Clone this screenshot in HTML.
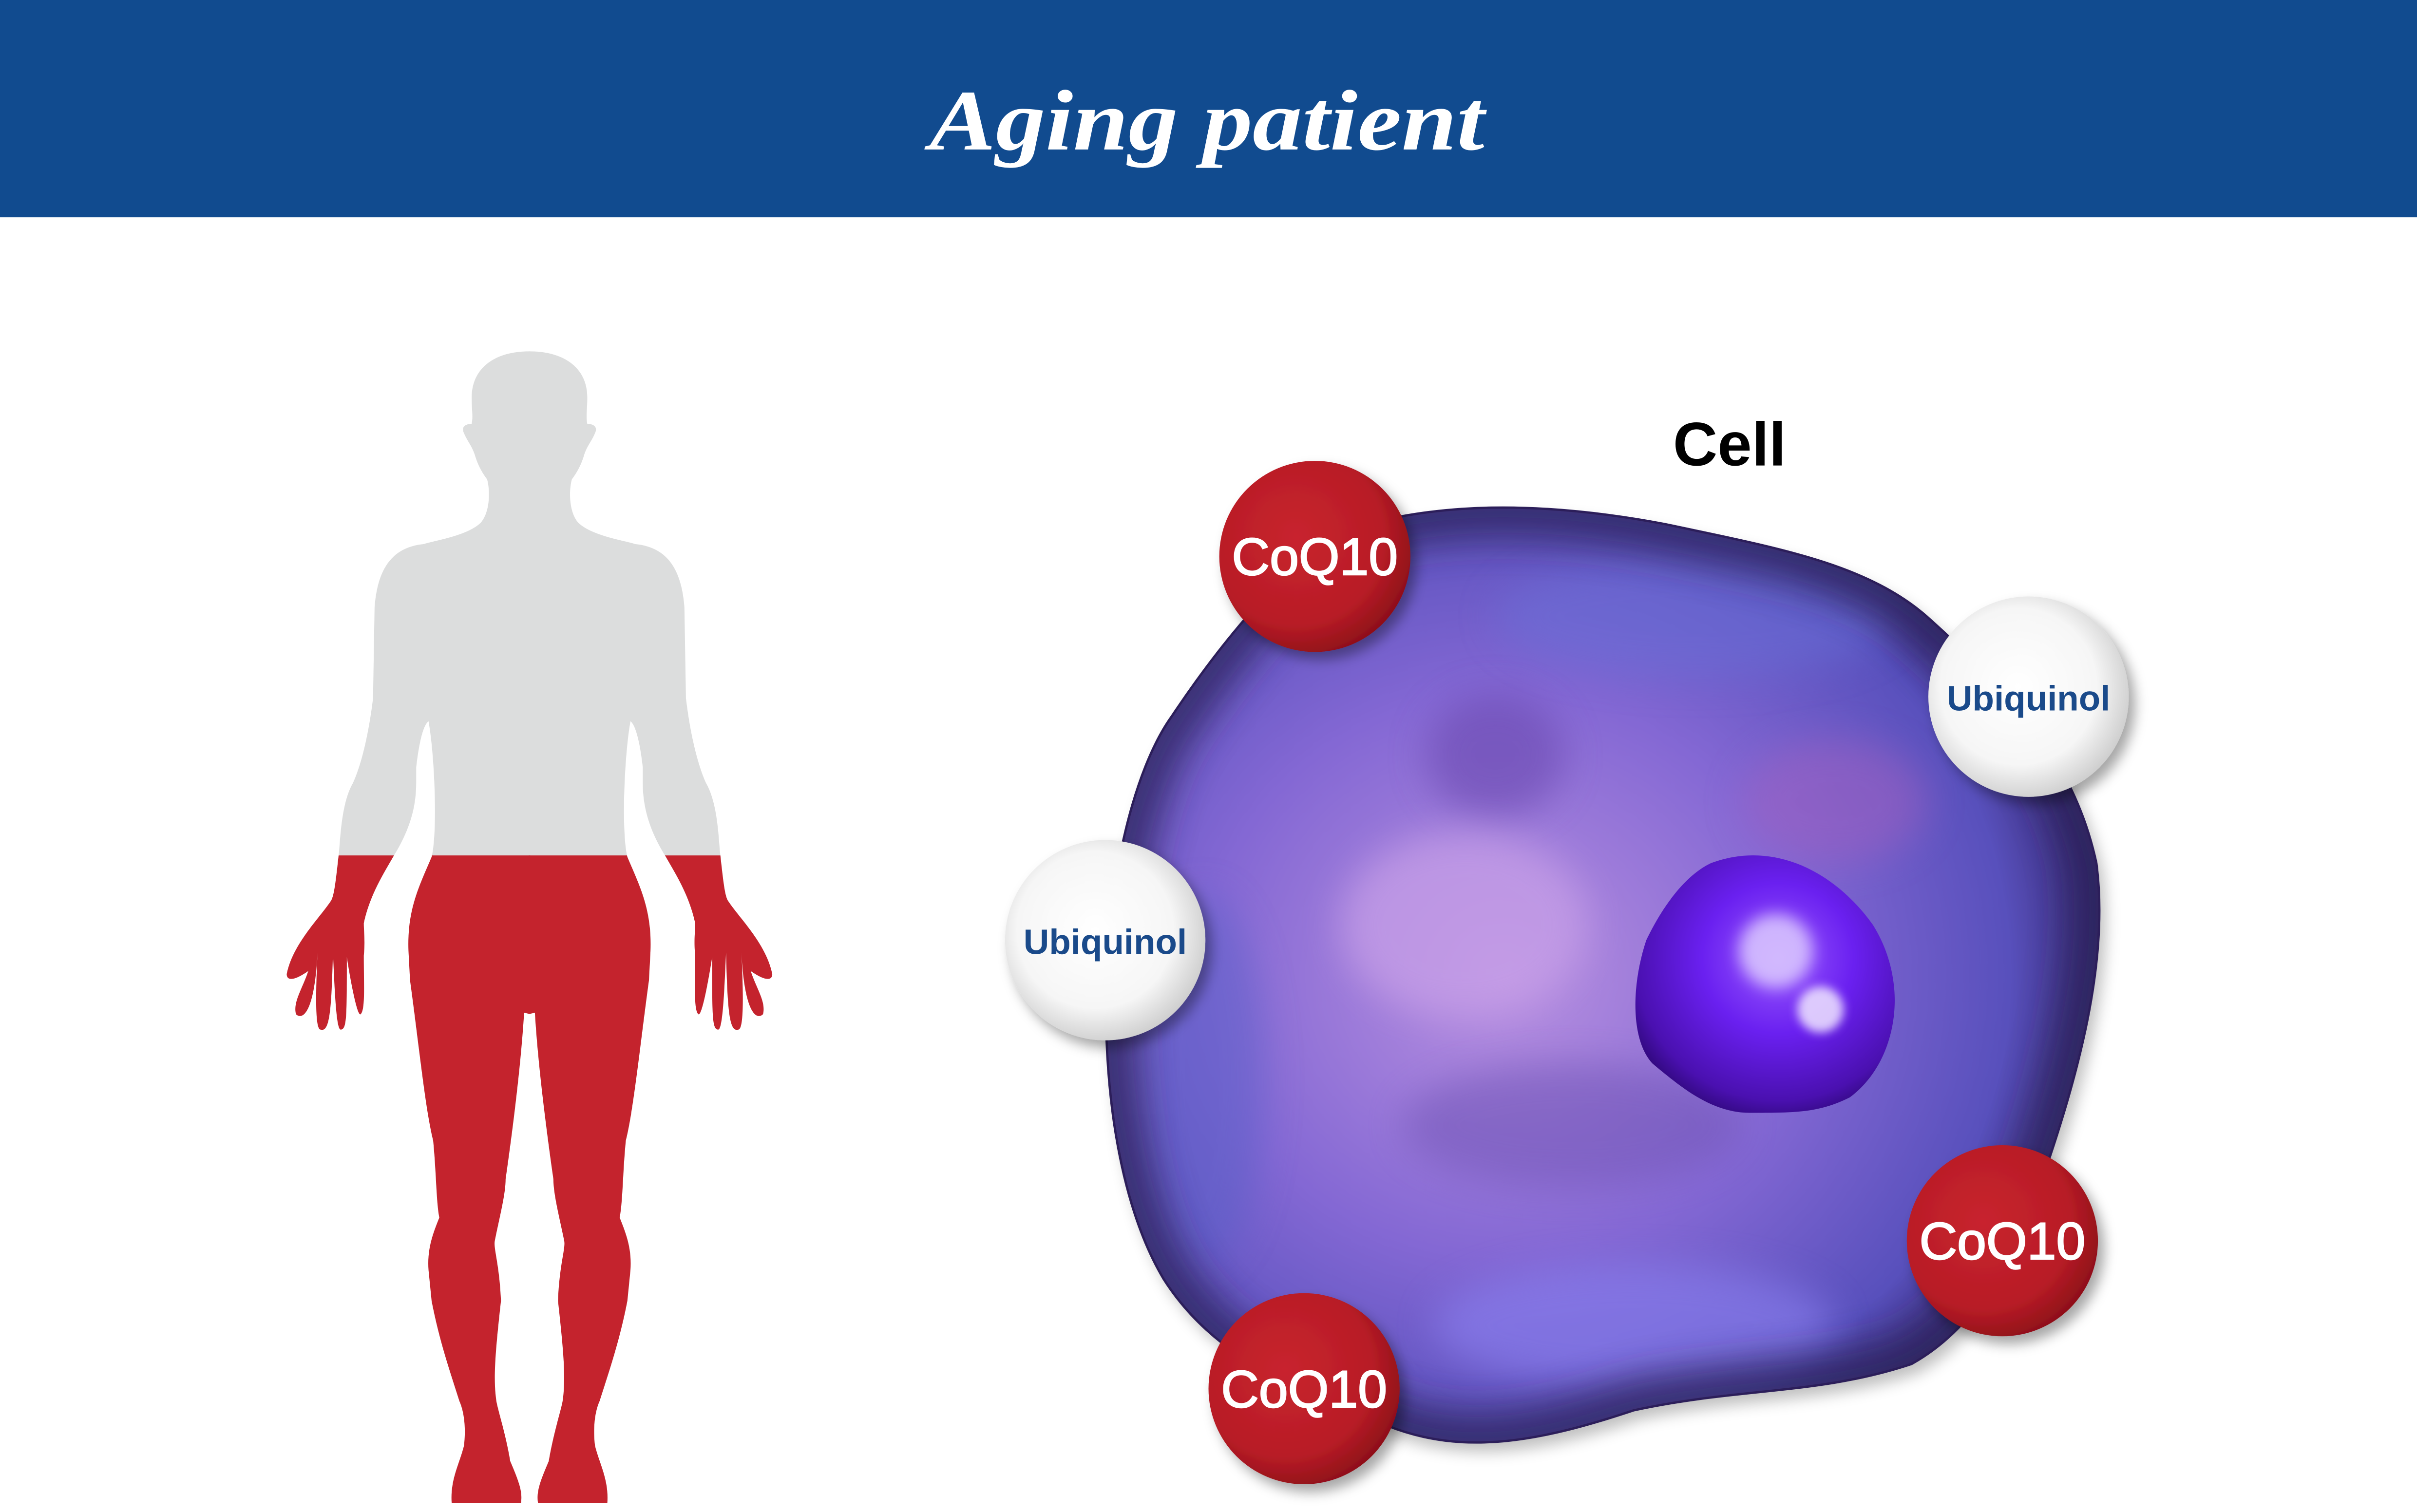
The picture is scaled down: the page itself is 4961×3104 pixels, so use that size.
<!DOCTYPE html>
<html><head><meta charset="utf-8"><style>
html,body{margin:0;padding:0;background:#fff;}
svg{display:block;}
</style></head><body>
<svg width="4961" height="3104" viewBox="0 0 1568 981" preserveAspectRatio="none" xmlns="http://www.w3.org/2000/svg">
<defs>
<radialGradient id="cellg" cx="0.4" cy="0.5" r="0.6">
<stop offset="0" stop-color="#b890e0"/>
<stop offset="0.5" stop-color="#8468d4"/>
<stop offset="0.85" stop-color="#5850bc"/>
<stop offset="1" stop-color="#3a2c78"/>
</radialGradient>
<radialGradient id="nucg" cx="0.55" cy="0.4" r="0.65">
<stop offset="0" stop-color="#9a5cff"/>
<stop offset="0.45" stop-color="#6a20f0"/>
<stop offset="0.85" stop-color="#4a10b0"/>
<stop offset="1" stop-color="#2e0878"/>
</radialGradient>
<radialGradient id="redg" cx="0.4" cy="0.4" r="0.65">
<stop offset="0" stop-color="#c8242e"/>
<stop offset="0.7" stop-color="#b81c26"/>
<stop offset="1" stop-color="#8c0f18"/>
</radialGradient>
<radialGradient id="whg" cx="0.45" cy="0.45" r="0.6">
<stop offset="0" stop-color="#ffffff"/>
<stop offset="0.65" stop-color="#f6f6f6"/>
<stop offset="1" stop-color="#c8c8c8"/>
</radialGradient>
<filter id="blur8" x="-50%" y="-50%" width="200%" height="200%"><feGaussianBlur stdDeviation="12"/></filter>
<filter id="blur4" x="-50%" y="-50%" width="200%" height="200%"><feGaussianBlur stdDeviation="5"/></filter>
<filter id="blur2" x="-50%" y="-50%" width="200%" height="200%"><feGaussianBlur stdDeviation="3"/></filter>
<filter id="shadow" x="-30%" y="-30%" width="160%" height="160%"><feDropShadow dx="4" dy="5" stdDeviation="4" flood-color="#000" flood-opacity="0.35"/></filter>
<path id="blob" d="M870,345 C930,325 1000,325 1080,340 C1150,355 1210,365 1250,400 C1300,445 1345,490 1360,560 C1368,620 1350,690 1330,750 C1310,810 1285,860 1240,885 C1180,905 1130,900 1060,915 C1000,935 950,945 900,925 C850,905 790,885 755,830 C725,780 715,700 718,630 C720,570 735,500 760,465 C790,420 830,370 870,345 Z"/>
<clipPath id="bc"><use href="#blob"/></clipPath>
<clipPath id="red"><rect x="0" y="555" width="1568" height="500"/></clipPath>
<path id="half" d="M343,228 C322,228 306,238 306,258 C306,266 307,270 306,275 C302,275 299,277 301,281 C303,286 306,289 308,295 C310,302 313,307 316,311 C318,318 318,332 312,339 C303,348 280,351 275,353 C255,355 245,368 243,394 L242,453 C239,478 234,497 229,508 C222,520 221,540 220,552 C218,570 217,580 215,584 C208,595 190,612 186,632 C186,636 190,637 200,630 C196,642 190,650 192,658 C196,662 204,658 206,618 C205,640 204,668 208,668 C214,670 215,655 216,618 C217,640 218,668 221,668 C225,668 225,660 225,621 C228,640 232,660 234,658 C237,655 236,640 236,620 C237,610 236,605 236,599 C240,580 250,565 255,556 C265,540 270,525 270,508 L270,498 C272,480 275,470 278,468 C282,490 284,540 280,556 C272,575 264,590 265,617 L266,636 C272,680 276,720 281,740 C283,760 283,780 285,790 C281,800 277,810 278,824 L280,844 C285,870 292,890 298,909 C302,918 302,930 301,938 C298,950 292,960 293,975 L338,975 C339,968 337,962 331,948 C328,930 323,915 322,909 C320,895 321,880 325,844 C324,820 320,810 321,805 C324,790 328,775 328,765 C333,730 338,690 340,657 L344,658 L344,228 Z"/>
<g id="fig"><use href="#half"/><use href="#half" transform="translate(687,0) scale(-1,1)"/></g>
</defs>

<rect x="0" y="0" width="1568" height="141" fill="#114b8f"/>
<text x="783" y="97" text-anchor="middle" font-family="'Liberation Serif',serif" font-style="italic" font-weight="bold" font-size="56" textLength="360" lengthAdjust="spacingAndGlyphs" fill="#fff">Aging patient</text>

<g fill="#dcdddd"><use href="#fig"/></g>
<g fill="#c4232d" clip-path="url(#red)"><use href="#fig"/></g>

<text x="1122" y="302" text-anchor="middle" font-family="'Liberation Sans',sans-serif" font-weight="bold" font-size="40" fill="#000">Cell</text>

<use href="#blob" fill="#000" opacity="0.25" filter="url(#blur4)" transform="translate(4,6)"/>
<use href="#blob" fill="url(#cellg)"/>
<g clip-path="url(#bc)">
<ellipse cx="970" cy="490" rx="45" ry="40" fill="#6a4ab0" opacity="0.6" filter="url(#blur8)"/>
<ellipse cx="950" cy="600" rx="80" ry="60" fill="#c8a0e8" opacity="0.7" filter="url(#blur8)"/>
<ellipse cx="1190" cy="520" rx="60" ry="40" fill="#a060c0" opacity="0.5" filter="url(#blur8)"/>
<ellipse cx="1060" cy="860" rx="130" ry="40" fill="#8a80f0" opacity="0.6" filter="url(#blur8)"/>
<ellipse cx="1020" cy="730" rx="110" ry="40" fill="#6a50b0" opacity="0.45" filter="url(#blur8)"/>
<ellipse cx="1100" cy="400" rx="130" ry="40" fill="#6a70d8" opacity="0.5" filter="url(#blur8)"/>
<ellipse cx="780" cy="700" rx="40" ry="120" fill="#5a60c8" opacity="0.5" filter="url(#blur8)"/>
<use href="#blob" fill="none" stroke="#2a2058" stroke-width="40" opacity="0.75" filter="url(#blur8)"/>
</g>
<use href="#blob" fill="none" stroke="#2c1e5a" stroke-width="1.5"/>

<path d="M1110,560 C1150,545 1190,565 1215,600 C1240,640 1230,690 1200,712 C1180,722 1165,722 1135,722 C1110,722 1090,705 1072,690 C1058,675 1058,640 1068,610 C1080,585 1095,567 1110,560 Z" fill="url(#nucg)"/>
<circle cx="1152" cy="617" r="24" fill="#e0d0ff" opacity="0.8" filter="url(#blur4)"/>
<circle cx="1181" cy="655" r="15" fill="#f0e6ff" opacity="0.85" filter="url(#blur2)"/>

<g font-family="'Liberation Sans',sans-serif" text-anchor="middle">
<g filter="url(#shadow)">
<circle cx="853" cy="361" r="62" fill="url(#redg)"/>
<circle cx="1299" cy="805" r="62" fill="url(#redg)"/>
<circle cx="846" cy="901" r="62" fill="url(#redg)"/>
<circle cx="1316" cy="452" r="65" fill="url(#whg)"/>
<circle cx="717" cy="610" r="65" fill="url(#whg)"/>
</g>
<text x="853" y="373" font-size="34" fill="#fff" stroke="#fff" stroke-width="0.8">CoQ10</text>
<text x="1299" y="817" font-size="34" fill="#fff" stroke="#fff" stroke-width="0.8">CoQ10</text>
<text x="846" y="913" font-size="34" fill="#fff" stroke="#fff" stroke-width="0.8">CoQ10</text>
<text x="1316" y="461" font-size="23" font-weight="bold" fill="#1a4a8a">Ubiquinol</text>
<text x="717" y="619" font-size="23" font-weight="bold" fill="#1a4a8a">Ubiquinol</text>
</g>
</svg>
</body></html>
